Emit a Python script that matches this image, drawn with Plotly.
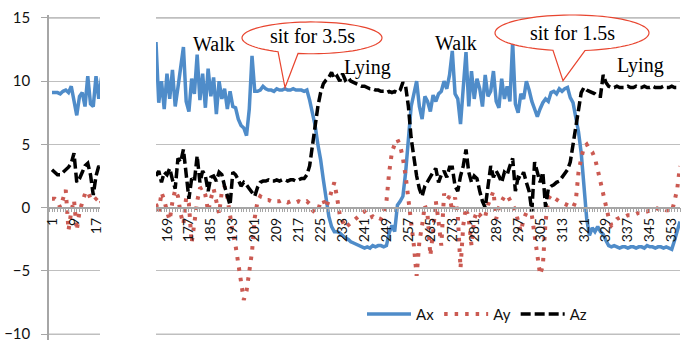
import math
import plotly.graph_objects as go

# ---------------- data ----------------
idx_left = list(range(1, 20))
ax_left = [9.1, 9.1, 9.1, 9.0, 9.2, 9.3, 9.1, 9.6, 8.6, 7.3, 8.8, 9.1, 8.0, 10.4, 8.2, 8.0, 10.4, 8.6, 10.3]
ay_left = [0.7, 0.7, 0.5, 0.0, 0.7, 1.4, -1.8, -0.3, 0.6, -1.8, -0.3, 0.4, 1.1, 1.3, 0.7, 0.5, 0.7, 0.9, 0.4]
az_left = [3.0, 2.8, 2.6, 2.6, 2.8, 3.0, 3.2, 3.5, 4.3, 2.0, 2.3, 2.8, 3.3, 3.5, 2.6, 1.0, 2.5, 3.3, 3.0]

idx_right = list(range(165, 357))
ax_right = [
    13.1, 8.3, 10.0, 7.8, 10.6, 8.6, 10.9, 8.0, 9.5, 11.2,
    12.7, 8.4, 7.6, 10.2, 9.0, 12.1, 8.5, 10.6, 7.9, 11.0,
    8.8, 10.3, 7.4, 10.0, 8.6, 9.4, 7.8, 9.2, 8.0, 7.9,
    7.0, 6.5, 6.3, 5.7, 7.8, 12.0, 9.2, 9.2, 9.3, 9.6,
    9.4, 9.3, 9.3, 9.2, 9.4, 9.3, 9.3, 9.4, 9.3, 9.3,
    9.4, 9.3, 9.3, 9.3, 9.2, 9.3, 8.5, 7.5, 6.5, 5.0,
    3.8, 2.2, 0.8, -0.7, -1.5, -1.9, -1.9, -2.0, -2.2, -2.4,
    -2.5, -2.7, -2.8, -2.9, -3.0, -3.1, -3.2, -3.1, -3.2, -3.0,
    -3.1, -3.0, -3.0, -3.1, -3.0, -2.0, -1.4, -1.9, 0.2, 0.5,
    0.9, 2.8, 5.5, 8.0, 9.0, 10.0, 8.0, 7.0, 8.8, 8.4,
    7.6, 8.9, 8.4, 9.0, 9.2, 10.0, 9.4, 10.5, 12.4, 9.0,
    8.6, 6.6, 9.5, 12.3, 8.0, 10.8, 8.6, 10.2, 9.4, 8.0,
    10.5, 8.8, 9.2, 10.8, 8.4, 7.9, 10.2, 8.6, 9.6, 8.4,
    13.1, 8.2, 7.5, 9.0, 8.6, 10.0, 9.3, 8.4, 7.8, 7.2,
    7.8, 8.3, 8.6, 8.4, 9.1, 9.2, 9.0, 9.4, 9.2, 9.4,
    9.5, 8.7, 8.3, 7.2, 6.0, 4.3, 2.0, -0.9, -2.2, -1.6,
    -1.9, -1.5, -1.9, -2.1, -2.6, -3.0, -3.1, -3.0, -3.1, -3.2,
    -3.1, -3.1, -3.2, -3.1, -3.1, -3.2, -3.1, -3.1, -3.2, -3.0,
    -3.1, -3.1, -3.2, -3.1, -3.1, -3.2, -3.1, -3.2, -3.3, -2.6,
    -1.8, -1.1,
]
ay_right = [
    0.3, -0.4, 1.2, 0.6, -0.3, -1.0, 0.5, 1.4, 0.9, -0.5,
    -1.3, 0.8, 0.3, -2.8, -1.2, 0.5, 1.5, 1.6, 1.0, -0.3,
    0.7, 1.5, 0.5, -0.5, 1.3, 1.7, 0.8, -0.8, -2.0, -3.0,
    -4.5, -6.0, -7.3, -6.6, -5.0, -3.5, -0.8, 0.5, 0.9, 0.7,
    0.6, 0.6, 0.5, 0.6, 0.5, 0.5, 0.6, 0.5, 0.4, 0.5,
    0.5, 0.4, 0.5, 0.4, 0.4, 0.5, 0.3, -0.2, -0.4, -0.3,
    0.5, 0.6, 0.0, 0.6, 1.3, 2.0, 0.8, -0.6, -1.1, -1.6,
    -1.4, -1.2, -1.0, -0.9, -0.6, -0.4, -0.3, -0.6, -0.8, -0.7,
    -0.9, -0.8, -0.9, -0.3, 0.5, 2.8, 4.4, 5.0, 5.4, 4.9,
    3.9, 2.5, 0.7, -0.9, -3.0, -5.4, -2.7, -1.4, 0.2, -0.6,
    -3.8, -1.9, 0.5, -1.1, -3.0, 1.1, 0.6, 0.9, -0.3, 0.8,
    -0.6, -4.8, -1.4, 0.0, -0.9, -3.0, -0.9, -0.3, -0.6, -0.4,
    -0.7, 0.2, 0.7, 1.3, -0.9, 0.0, 0.5, 0.9, 1.0, 0.6,
    0.3, -0.2, -1.1, -1.9, -0.9, -0.4, -0.6, -0.6, -2.2, -3.8,
    -5.3, -4.6, -1.1, 0.7, 1.0, 0.8, 0.6, 0.5, 0.4, 0.3,
    0.2, 0.1, 0.0, 0.5, 2.8, 3.9, 4.8, 5.0, 4.6, 4.4,
    3.9, 3.0, 2.0, 1.2, 0.3, -0.8, -1.4, -1.1, -0.9, -0.8,
    -0.7, -0.7, -0.6, -0.6, -0.5, -0.5, -0.4, -0.4, -0.3, -0.3,
    -0.2, -0.1, 0.0, -0.1, 0.0, -0.1, -0.2, -0.2, -0.3, 0.5,
    1.5, 3.3,
]
az_right = [
    2.5, 2.9, 2.0, 2.8, 2.6, 3.1, 2.2, 1.5, 3.9, 3.6,
    4.6, 2.5, 0.7, 2.3, 2.1, 4.1, 2.0, 2.9, 2.5, 1.3,
    2.4, 2.5, 2.1, 2.8, 2.6, 1.7, 1.0, 0.2, 2.8, 2.6,
    2.2, 1.7, 2.0, 1.8, 1.5, 1.2, 0.9, 1.6, 2.0, 2.1,
    2.1, 2.2, 2.1, 2.1, 2.2, 2.1, 2.2, 2.2, 2.1, 2.2,
    2.2, 2.1, 2.2, 2.3, 2.3, 2.6, 3.3, 4.9, 6.5, 8.0,
    9.1, 9.8, 10.1, 10.3, 10.7, 10.2, 10.4, 10.0, 10.6, 10.1,
    10.3, 10.0, 9.9, 9.8, 9.7, 9.6, 9.6, 9.5, 9.4, 9.4,
    9.3, 9.3, 9.2, 9.2, 9.1, 9.2, 9.1, 9.2, 9.1, 9.3,
    9.9, 9.6, 8.0, 5.5, 3.9, 2.5, 1.5, 0.9, 1.7, 2.1,
    2.5, 2.8, 3.1, 2.0, 2.6, 2.9, 2.4, 3.2, 3.2, 1.7,
    1.3, 2.5, 3.3, 4.6, 2.8, 2.0, 2.5, 2.3, 1.3, 0.5,
    0.0, 1.5, 3.3, 2.4, 2.9, 2.5, 2.0, 2.8, 2.6, 3.3,
    3.9, 1.3, 2.4, 2.3, 2.8, 2.0, 1.3, -0.3, 3.6, 2.8,
    2.0, 2.8, 0.0, 1.5, 1.7, 1.8, 2.0, 2.1, 2.4, 2.7,
    3.0, 3.6, 4.9, 6.2, 7.8, 9.1, 9.5, 9.3, 9.2, 9.1,
    9.0, 8.8, 8.8, 10.5, 9.9, 9.6, 9.5, 9.5, 9.6, 9.5,
    9.5, 9.5, 9.6, 9.5, 9.5, 9.6, 9.5, 9.5, 9.6, 9.5,
    9.5, 9.6, 9.5, 9.5, 9.5, 9.6, 9.5, 9.5, 9.6, 9.5,
    9.5, 9.5,
]

y_tick_step = 5
y_edge_grid = [-10, 15]

# ---------------- styling ----------------
BLUE = "#4F8CC9"
RED = "#CB5A52"
BLACK = "#000000"
GRID = "#BFBFBF"
AXIS = "#A6A6A6"
W, H = 685, 342
ML, MR, MT, MB = 49, 5, 15, 0
PW, PH = W - ML - MR, H - MT - MB
YR = [-10.47, 15.236]
X_POS = (0 - YR[0]) / (YR[1] - YR[0])


def pxx(px):
    return (px - ML) / PW


def pxy(py):
    return (H - MB - py) / PH


fig = go.Figure()
series = [
    ("Ax", ax_left, ax_right, dict(color=BLUE, width=3.5)),
    ("Ay", ay_left, ay_right, dict(color=RED, width=4, dash="3.5px,7px")),
    ("Az", az_left, az_right, dict(color=BLACK, width=3.5, dash="10px,4px")),
]
for name, yl, yr, ln in series:
    fig.add_trace(go.Scatter(x=idx_left, y=yl, mode="lines", line=ln, name=name,
                             showlegend=False, xaxis="x", yaxis="y", hoverinfo="skip"))
for name, yl, yr, ln in series:
    fig.add_trace(go.Scatter(x=idx_right, y=yr, mode="lines", line=ln, name=name,
                             showlegend=True, xaxis="x2", yaxis="y2", hoverinfo="skip"))

xcommon = dict(
    anchor="free", position=X_POS, showline=True, linecolor=AXIS, linewidth=1.5,
    ticks="outside", ticklen=4, tickcolor=AXIS, tickwidth=1, tick0=1, dtick=8,
    tickangle=-90, tickfont=dict(family="Lato", size=14, color="#111"),
    showgrid=False, zeroline=False,
    minor=dict(ticks="outside", ticklen=4, dtick=1, tickcolor=AXIS, tickwidth=1, showgrid=False),
)
ycommon = dict(domain=[0, 1], range=YR, tickmode="linear", tick0=0, dtick=y_tick_step,
               showgrid=True, gridcolor=GRID, gridwidth=1.3, zeroline=False)
fig.update_layout(
    width=W, height=H,
    margin=dict(l=ML, r=MR, t=MT, b=MB),
    paper_bgcolor="white", plot_bgcolor="white",
    xaxis=dict(domain=[0, pxx(100)], range=[-0.09, 18.45], **xcommon),
    xaxis2=dict(domain=[pxx(156), 1], range=[165, 356], **xcommon),
    yaxis=dict(anchor="x", showline=True, linecolor=AXIS, linewidth=1.5,
               ticks="outside", ticklen=6, tickcolor=AXIS, ticklabelstandoff=8,
               ticklabeloverflow="allow",
               tickfont=dict(family="Lato", size=15, color="#111"), **ycommon),
    yaxis2=dict(anchor="x2", showticklabels=False, showline=False, ticks="", **ycommon),
    legend=dict(orientation="h", x=pxx(362), xanchor="left", y=pxy(316), yanchor="middle",
                font=dict(family="Lato", size=15, color="#111"),
                bgcolor="rgba(0,0,0,0)", itemwidth=44),
    showlegend=True,
)

# make sure the outermost gridlines are drawn in both panels
for xr, yr_ in (("x domain", "y"), ("x2 domain", "y2")):
    for gv in y_edge_grid:
        fig.add_shape(type="line", xref=xr, yref=yr_, x0=0, x1=1, y0=gv, y1=gv,
                      line=dict(color=GRID, width=1.3), layer="below")


def callout(cx, cy, rx, ry, t1, t2, tip):
    # polygon around an ellipse (pixel coords), leaving a wedge toward tip
    pts = []
    n = 80
    a0, a1 = math.radians(t1), math.radians(t2 + 360)
    for i in range(n + 1):
        a = a0 + (a1 - a0) * i / n
        pts.append((cx + rx * math.cos(a), cy + ry * math.sin(a)))
    pts.append(tip)
    d = "M " + " L ".join(f"{pxx(x):.5f},{pxy(y):.5f}" for x, y in pts) + " Z"
    return dict(type="path", path=d, xref="paper", yref="paper",
                line=dict(color="#E8452F", width=1.2), fillcolor="white", layer="above")


fig.add_shape(callout(312, 38, 70, 16, 119, 101.5, (285, 88)))
fig.add_shape(callout(572, 33, 77, 18, 104.3, 80.3, (563, 81)))

labels = [
    ("Walk", 214, 44), ("Walk", 456, 43), ("Lying", 368, 68), ("Lying", 640, 66),
    ("sit for 3.5s", 312, 36), ("sit for 1.5s", 572, 33),
]
for txt, x, y in labels:
    fig.add_annotation(text=txt, x=pxx(x), y=pxy(y), xref="paper", yref="paper",
                       showarrow=False, xanchor="center", yanchor="middle",
                       font=dict(family="Liberation Serif", size=20, color="black"))

fig.write_html("out.html", config={"displayModeBar": False},
               post_script="document.body.style.margin='0px';")
